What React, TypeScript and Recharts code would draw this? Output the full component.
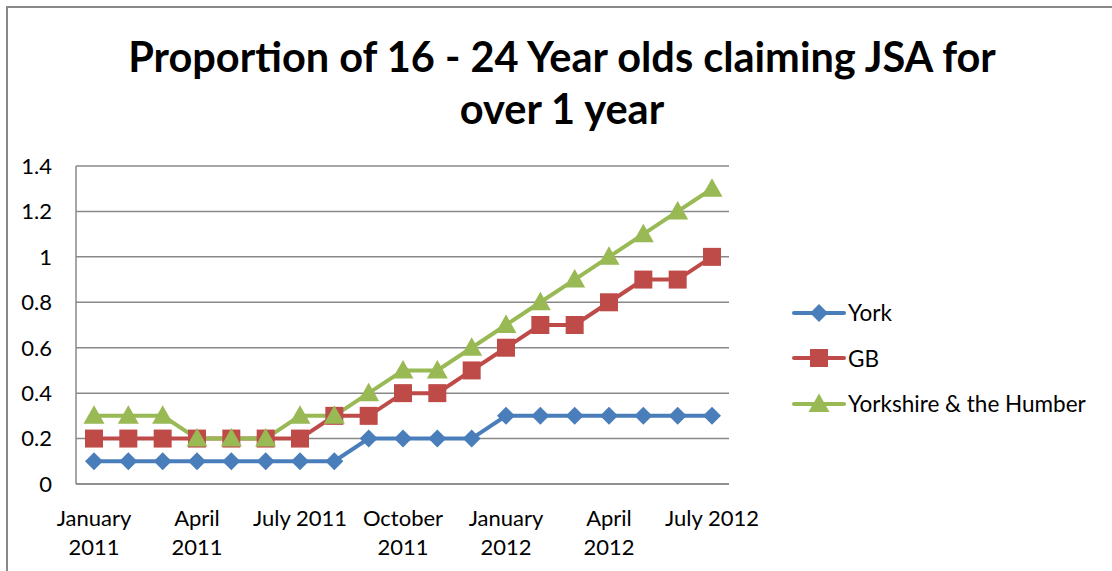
import React from "react";
import {
  LineChart,
  Line,
  XAxis,
  YAxis,
  CartesianGrid,
} from "recharts";

const months = [
  "January 2011",
  "February 2011",
  "March 2011",
  "April 2011",
  "May 2011",
  "June 2011",
  "July 2011",
  "August 2011",
  "September 2011",
  "October 2011",
  "November 2011",
  "December 2011",
  "January 2012",
  "February 2012",
  "March 2012",
  "April 2012",
  "May 2012",
  "June 2012",
  "July 2012",
];

const york = [0.1, 0.1, 0.1, 0.1, 0.1, 0.1, 0.1, 0.1, 0.2, 0.2, 0.2, 0.2, 0.3, 0.3, 0.3, 0.3, 0.3, 0.3, 0.3];
const gb = [0.2, 0.2, 0.2, 0.2, 0.2, 0.2, 0.2, 0.3, 0.3, 0.4, 0.4, 0.5, 0.6, 0.7, 0.7, 0.8, 0.9, 0.9, 1.0];
const yorkshire = [0.3, 0.3, 0.3, 0.2, 0.2, 0.2, 0.3, 0.3, 0.4, 0.5, 0.5, 0.6, 0.7, 0.8, 0.9, 1.0, 1.1, 1.2, 1.3];

const yTicks = [0, 0.2, 0.4, 0.6, 0.8, 1, 1.2, 1.4];

const FONT = "Lato, 'Noto Sans', sans-serif";
const GRID = "#888888";

const series = [
  { key: "york", name: "York", color: "#4A7EBB", shape: "diamond" },
  { key: "gb", name: "GB", color: "#BE4B48", shape: "square" },
  { key: "yorkshire", name: "Yorkshire & the Humber", color: "#98B954", shape: "triangle" },
];

const data = months.map((month, i) => ({
  month,
  york: york[i],
  gb: gb[i],
  yorkshire: yorkshire[i],
}));

function Marker({ cx, cy, shape, color }: any) {
  if (cx == null || cy == null) return null;
  if (shape === "diamond") {
    const r = 9;
    return (
      <path
        d={`M${cx},${cy - r} L${cx + r},${cy} L${cx},${cy + r} L${cx - r},${cy} Z`}
        fill={color}
      />
    );
  }
  if (shape === "square") {
    const h = 9;
    return <rect x={cx - h} y={cy - h} width={h * 2} height={h * 2} fill={color} />;
  }
  return (
    <path
      d={`M${cx},${cy - 10.5} L${cx + 10.5},${cy + 8} L${cx - 10.5},${cy + 8} Z`}
      fill={color}
    />
  );
}

function MonthTick({ x, y, payload }: any) {
  const label: string = payload.value;
  const lines = label.length > 9 ? label.split(" ") : [label];
  return (
    <text
      x={x}
      y={y}
      textAnchor="middle"
      fontFamily={FONT}
      fontSize={22}
      fill="#000"
    >
      {lines.map((line, i) => (
        <tspan key={i} x={x} dy={i === 0 ? 34 : 29}>
          {line}
        </tspan>
      ))}
    </text>
  );
}

function LegendIcon({ shape, color }: { shape: string; color: string }) {
  return (
    <svg width={54} height={22} style={{ display: "block" }}>
      <line x1={2} y1={11} x2={52} y2={11} stroke={color} strokeWidth={4} strokeLinecap="round" />
      <Marker cx={27} cy={11} shape={shape} color={color} />
    </svg>
  );
}

export default function App() {
  return (
    <div
      style={{
        position: "absolute",
        left: 0,
        top: 0,
        width: 1112,
        height: 571,
        overflow: "hidden",
        background: "#fff",
        fontFamily: FONT,
      }}
    >
      <div
        style={{
          position: "absolute",
          left: 6,
          top: 6,
          width: 1200,
          height: 700,
          border: `2px solid ${GRID}`,
        }}
      />
      <div
        style={{
          position: "absolute",
          left: 0,
          top: 30,
          width: 1124,
          textAlign: "center",
          fontWeight: 700,
          fontSize: 41.5,
          lineHeight: "52px",
          color: "#000",
        }}
      >
        Proportion of 16 - 24 Year olds claiming JSA for
        <br />
        over 1 year
      </div>

      <div style={{ position: "absolute", left: 0, top: 0 }}>
        <LineChart
          width={1112}
          height={571}
          data={data}
          margin={{ top: 166, right: 383, bottom: 0, left: 16 }}
        >
          <CartesianGrid vertical={false} stroke={GRID} strokeWidth={1.5} />
          <XAxis
            dataKey="month"
            interval={2}
            padding={{ left: 18, right: 17 }}
            tickLine={false}
            axisLine={{ stroke: GRID, strokeWidth: 1.5 }}
            tick={<MonthTick />}
            height={87}
          />
          <YAxis
            width={60}
            domain={[0, 1.4]}
            ticks={yTicks}
            tickLine={false}
            tickSize={0}
            tickMargin={24}
            axisLine={{ stroke: GRID, strokeWidth: 1.5 }}
            tick={{ fill: "#000", fontSize: 22, fontFamily: FONT }}
          />
          {series.map((s) => (
            <Line
              key={s.key}
              dataKey={s.key}
              name={s.name}
              type="linear"
              stroke={s.color}
              strokeWidth={4}
              dot={(props: any) => (
                <Marker key={`${s.key}-${props.index}`} cx={props.cx} cy={props.cy} shape={s.shape} color={s.color} />
              )}
              activeDot={false}
              isAnimationActive={false}
            />
          ))}
        </LineChart>
      </div>

      <div style={{ position: "absolute", left: 792, top: 290 }}>
        {series.map((s) => (
          <div
            key={s.key}
            style={{ display: "flex", alignItems: "center", height: 45.5, fontSize: 22.5, color: "#000" }}
          >
            <LegendIcon shape={s.shape} color={s.color} />
            <span style={{ marginLeft: 2 }}>{s.name}</span>
          </div>
        ))}
      </div>
    </div>
  );
}
